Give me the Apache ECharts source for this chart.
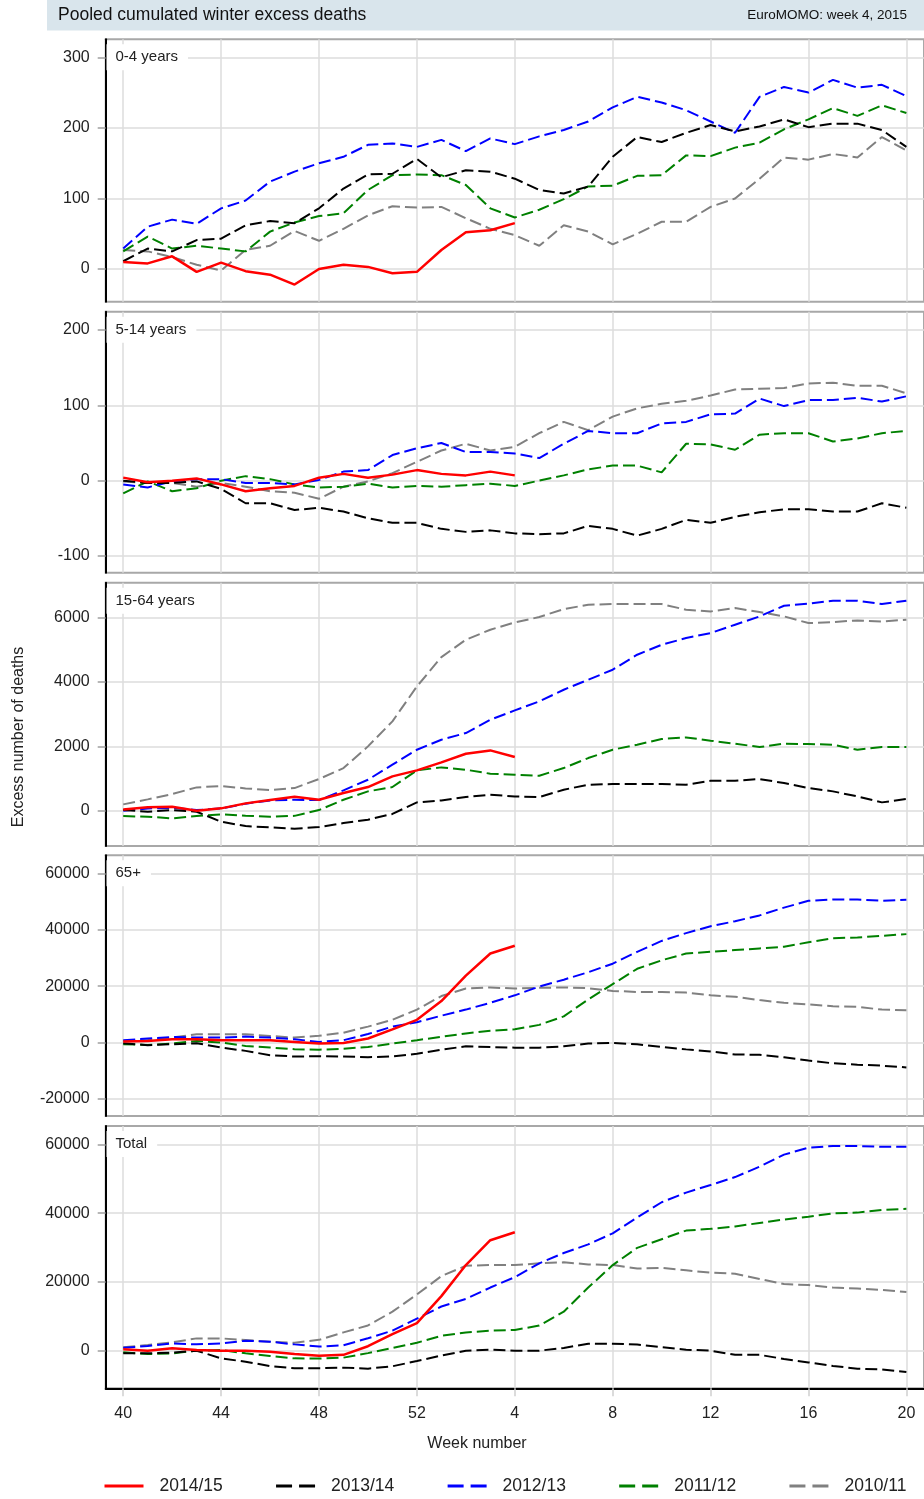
<!DOCTYPE html>
<html><head><meta charset="utf-8">
<script src="https://cdn.jsdelivr.net/npm/echarts@6/dist/echarts.min.js"></script>
<style>html,body{margin:0;padding:0;background:#fff}#c{width:924px;height:1499px}</style>
</head><body><div id="c"></div>
<script>
// ---------- categories / ticks ----------
const weekLabels = [40,41,42,43,44,45,46,47,48,49,50,51,52,1,2,3,4,5,6,7,8,9,10,11,12,13,14,15,16,17,18,19,20];
const xTickIdx = [0,4,8,12,16,20,24,28,32];
const seasons = ['2014/15','2013/14','2012/13','2011/12','2010/11'];
const panelNames = ['0-4 years','5-14 years','15-64 years','65+','Total'];
const yTicks0_4 = [0,100,200,300];
const yTicks5_14 = [-100,0,100,200];
const yTicks15_64 = [0,2000,4000,6000];
const yTicks65 = [-20000,0,20000,40000,60000];
const yTicksTotal = [0,20000,40000,60000];

// ---------- 0-4 years ----------
const a04_1415 = [10,8,18,-4,9,-3,-8,-22,0,6,3,-6,-4,27,52,55,65];
const a04_1314 = [11,29,25,41,43,62,68,65,86,114,134,135,156,130,140,138,128,112,107,117,159,187,180,193,204,195,202,212,201,206,206,197,173];
const a04_1213 = [29,60,70,64,86,97,124,138,150,159,176,178,173,183,167,185,177,188,197,209,229,244,236,225,209,193,244,258,250,268,257,261,245];
const a04_1112 = [25,46,29,33,29,25,53,66,75,79,112,133,134,133,119,86,73,84,99,117,118,132,133,161,160,172,179,198,212,228,217,232,221];
const a04_1011 = [27,25,17,6,-2,27,33,54,40,57,76,89,87,88,72,57,48,33,62,53,35,50,67,67,88,100,128,158,155,163,158,187,168];

// ---------- 5-14 years ----------
const a514_1415 = [4,-2,0,3,-5,-14,-10,-7,4,9,4,8,14,9,7,12,7];
const a514_1314 = [0,-3,-3,-1,-11,-30,-30,-39,-36,-41,-50,-56,-56,-64,-68,-66,-70,-71,-70,-60,-64,-73,-64,-52,-56,-48,-42,-38,-38,-41,-41,-30,-36];
const a514_1213 = [-5,-9,-1,2,2,-3,-3,-5,1,12,14,34,43,50,38,38,36,30,49,66,63,63,76,78,88,89,109,99,107,107,110,105,112];
const a514_1112 = [-17,-1,-14,-10,0,6,2,-5,-9,-8,-4,-9,-7,-8,-6,-4,-7,0,7,15,20,20,11,49,48,41,61,63,63,52,56,63,66];
const a514_1011 = [-1,-3,-3,-8,-3,-8,-14,-16,-24,-8,-1,10,25,40,49,40,45,63,78,67,85,96,102,106,113,121,122,123,129,130,126,126,116];

// ---------- 15-64 years ----------
const a1564_1415 = [41,104,124,0,73,228,332,435,342,549,736,1067,1254,1502,1772,1875,1668];
const a1564_1314 = [20,-31,20,-31,-342,-477,-518,-560,-508,-383,-280,-100,259,321,425,497,445,425,653,808,829,829,829,808,932,932,984,860,704,601,445,259,363];
const a1564_1213 = [0,70,90,20,70,220,320,340,330,632,963,1430,1896,2207,2414,2828,3118,3398,3761,4072,4383,4849,5159,5367,5522,5781,6040,6372,6434,6527,6527,6423,6527];
const a1564_1112 = [-166,-187,-238,-166,-114,-155,-187,-160,20,342,601,736,1254,1347,1274,1150,1119,1088,1326,1637,1896,2052,2228,2279,2176,2083,1979,2083,2072,2052,1896,1979,1979];
const a1564_1011 = [197,352,518,725,767,694,642,704,984,1326,2000,2777,3864,4776,5315,5626,5853,6020,6268,6402,6423,6423,6423,6247,6195,6299,6175,6040,5833,5864,5916,5884,5936];

// ---------- 65+ ----------
const a65_1415 = [350,588,1176,1176,823,823,823,235,-361,-120,1446,4700,8073,14700,23738,31570,34340];
const a65_1314 = [-235,-941,-588,-235,-1765,-2941,-4471,-4941,-4820,-4940,-5180,-4940,-3980,-2530,-1330,-1570,-1810,-1810,-1330,-360,-120,-600,-1570,-2410,-3130,-4220,-4340,-5180,-6390,-7350,-7830,-8190,-8800];
const a65_1213 = [823,1412,2000,1765,1765,2118,1765,1176,241,843,3012,5663,7230,9520,11690,14100,16750,19880,22290,24940,27960,32170,36030,38800,41210,43020,45070,47840,50250,50730,50730,50250,50610];
const a65_1112 = [-588,-823,-353,588,0,-1176,-1765,-2353,-2530,-2170,-1570,-360,840,2050,3250,4220,4700,6270,9280,15300,20730,26150,29160,31570,32170,32780,33380,33980,35550,36990,37240,37840,38440];
const a65_1011 = [588,941,1765,2941,2941,2941,2353,1765,2400,3500,5660,8070,11690,16500,19160,19520,19160,19400,19520,19280,18320,17950,17950,17710,16750,16270,15060,14100,13500,12890,12650,11690,11450];

// ---------- Total ----------
const tot_1415 = [390,0,680,190,0,0,-290,-970,-1450,-1200,1300,4820,8030,15860,24890,32110,34420];
const tot_1314 = [-770,-770,-580,0,-2230,-3200,-4460,-5130,-5080,-4920,-5220,-4520,-3010,-1400,0,300,0,0,800,2010,2010,1810,1000,300,0,-1200,-1200,-2410,-3410,-4420,-5220,-5420,-6220];
const tot_1213 = [870,1360,2130,1840,2130,2900,2610,1840,1200,1600,3610,5820,9330,12850,15050,18360,21370,25390,28400,30910,34120,38740,43150,45960,48170,50480,53490,57000,59010,59510,59510,59300,59300];
const tot_1112 = [-480,-970,-770,0,190,-770,-1550,-2230,-2300,-2010,-700,800,2310,4320,5320,5820,6020,7330,11340,18360,24890,29900,32410,34920,35420,36130,37130,38130,38940,39940,40140,40940,41240];
const tot_1011 = [970,1650,2420,3580,3580,3100,2610,2320,3150,5320,7330,11340,16360,21680,24690,24890,24890,25390,25690,25090,24890,23880,24080,23380,22680,22380,20870,19370,19070,18360,18060,17660,17060];

// ---------- assembly ----------
const panelSeries = [
  [a04_1415, a04_1314, a04_1213, a04_1112, a04_1011],
  [a514_1415, a514_1314, a514_1213, a514_1112, a514_1011],
  [a1564_1415, a1564_1314, a1564_1213, a1564_1112, a1564_1011],
  [a65_1415, a65_1314, a65_1213, a65_1112, a65_1011],
  [tot_1415, tot_1314, tot_1213, tot_1112, tot_1011]
];
const panelTicks = [yTicks0_4, yTicks5_14, yTicks15_64, yTicks65, yTicksTotal];

const FONT = '"Liberation Sans", Arial, sans-serif';
const layout = [
  {top:39.3, h:262.4, min:-46.3, max:325.5, split:4},
  {top:311.7, h:261, min:-122.2, max:224.3, split:3},
  {top:582.7, h:263.3, min:-1097, max:7088, split:4},
  {top:855.3, h:260.7, min:-26026, max:66380, split:4},
  {top:1126, h:262.3, min:-10930, max:65320, split:4}
];
const styles = {
  '2014/15': {color:'#ff0000', type:'solid', width:2.5},
  '2013/14': {color:'#000000', type:[12,5], width:2},
  '2012/13': {color:'#0000ff', type:[12,5], width:2},
  '2011/12': {color:'#008000', type:[12,5], width:2},
  '2010/11': {color:'#808080', type:[12,5], width:2}
};
const drawOrder = [4,3,2,1,0];

const grids = layout.map(l => ({left:105.7, width:822, top:l.top, height:l.h, show:true, borderColor:'#a8a8a8', borderWidth:2, backgroundColor:'transparent'}));
const xAxes = layout.map((l,i) => ({
  gridIndex:i, type:'value', min:-0.716, max:32.72,
  axisLine:{show:i===4, onZero:false, lineStyle:{color:'#000', width:2}},
  axisTick:{show:i===4, customValues:xTickIdx, length:8, lineStyle:{color:'#d0d0d0', width:1.5}},
  axisLabel:{show:i===4, customValues:xTickIdx, formatter:v => String(weekLabels[Math.round(v)]), fontSize:16, color:'#222', margin:17, fontFamily:FONT},
  splitLine:{show:true, lineStyle:{color:'#dcdcdc', width:1.5}}
}));
const yAxes = layout.map((l,i) => ({
  gridIndex:i, type:'value', min:l.min, max:l.max, splitNumber:l.split,
  axisLine:{show:true, onZero:false, lineStyle:{color:'#000', width:2}},
  axisTick:{show:true, customValues:panelTicks[i], length:8, lineStyle:{color:'#a0a0a0', width:1.5}},
  axisLabel:{customValues:panelTicks[i], formatter:v => String(v), fontSize:16, color:'#222', margin:16, fontFamily:FONT},
  splitLine:{show:true, lineStyle:{color:'#dcdcdc', width:1.5}}
}));
const series = [];
panelSeries.forEach((arrs, p) => {
  drawOrder.forEach(k => {
    const name = seasons[k];
    const st = styles[name];
    series.push({
      type:'line', name, xAxisIndex:p, yAxisIndex:p,
      data: arrs[k].map((v, idx) => [idx, v]),
      symbol:'none', smooth:false,
      lineStyle:{color:st.color, width:st.width, type:st.type},
      itemStyle:{color:st.color}, z:3
    });
  });
});
const titles = panelNames.map((n,i) => ({
  text:n, left:106.5, top:layout[i].top + 18 - 13, padding:[4,10,4,9], backgroundColor:'#fff',
  textStyle:{fontSize:15, fontWeight:'normal', color:'#222', fontFamily:FONT, lineHeight:18}
}));

const chart = echarts.init(document.getElementById('c'), null, {renderer:'canvas'});
chart.setOption({
  animation:false,
  backgroundColor:'#fff',
  title: titles,
  grid: grids, xAxis: xAxes, yAxis: yAxes, series,
  legend: {
    left:103, top:1477, padding:0, itemWidth:39, itemHeight:14, itemGap:51.8,
    textStyle:{fontSize:17.5, color:'#222', fontFamily:FONT, padding:[0,0,0,11]},
    data: seasons.map(s => ({name:s,
      itemStyle:{opacity:0},
      lineStyle:{width:3, type: s==='2014/15' ? 'solid' : [16,7], color:styles[s].color}}))
  },
  graphic: [
    {type:'rect', left:47, top:0, shape:{width:877, height:30.5}, style:{fill:'#d9e5ec'}, z:0},
    {type:'text', left:58, top:6, style:{text:'Pooled cumulated winter excess deaths', font:'17.5px "Liberation Sans", Arial, sans-serif', fill:'#111'}, z:1},
    {type:'text', right:17, top:8.5, style:{text:'EuroMOMO: week 4, 2015', font:'13.5px "Liberation Sans", Arial, sans-serif', fill:'#111'}, z:1},
    {type:'text', x:19, y:737, rotation:Math.PI/2, style:{text:'Excess number of deaths', font:'16px "Liberation Sans", Arial, sans-serif', fill:'#222', align:'center', verticalAlign:'middle'}},
    {type:'text', x:477, y:1444, style:{text:'Week number', font:'16px "Liberation Sans", Arial, sans-serif', fill:'#222', align:'center', verticalAlign:'middle'}}
  ]
});
</script></body></html>
